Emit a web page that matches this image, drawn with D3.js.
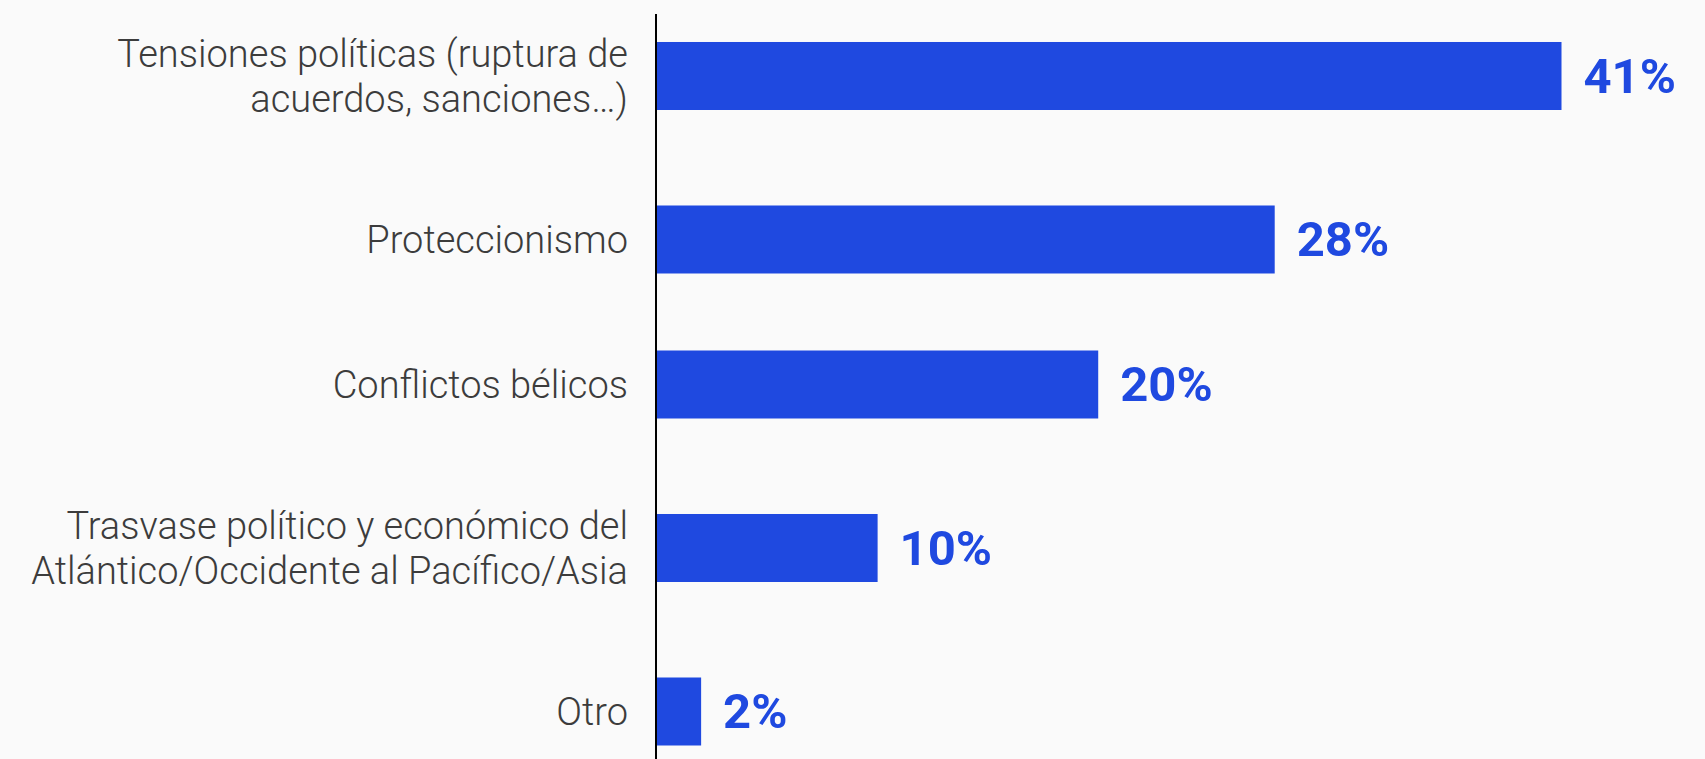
<!DOCTYPE html>
<html>
<head>
<meta charset="utf-8">
<script src="https://cdn.jsdelivr.net/npm/d3@7"></script>
<style>
  html, body { margin: 0; padding: 0; background: #fafafa; }
  svg { display: block; }
</style>
</head>
<body>
<svg id="chart" width="1705" height="759"></svg>
<script>
// ---- data ----
const categories = [
  "Tensiones políticas (ruptura de\nacuerdos, sanciones…)",
  "Proteccionismo",
  "Conflictos bélicos",
  "Trasvase político y económico del\nAtlántico/Occidente al Pacífico/Asia",
  "Otro"
];
const values = [41, 28, 20, 10, 2];
const valueLabels = ["41%", "28%", "20%", "10%", "2%"];

// ---- layout ----
const W = 1705, H = 759;
const axisX = 657;
const barColor = "#1f49e0";
const textColor = "#3c3c3c";

const svg = d3.select("#chart");
svg.append("rect").attr("width", W).attr("height", H).attr("fill", "#fafafa");

const x = d3.scaleLinear().domain([0, 41]).range([axisX, 1561.5]);

// row heights depend on number of label lines
const lines = categories.map(c => c.split("\n"));
const rowUnits = lines.map(l => 1 + 0.255 * (l.length - 1));
const cum = [0, ...d3.cumsum(rowUnits)];
const total = cum[cum.length - 1];
const yU = d3.scaleLinear().domain([0, total]).range([-15, 784]);
const centers = rowUnits.map((u, i) => yU(cum[i] + u / 2));
const barH = 68;

const rows = svg.append("g").selectAll("g.row")
  .data(values.map((v, i) => ({ v, i, label: lines[i], vl: valueLabels[i] })))
  .join("g").attr("class", "row");

rows.append("rect")
  .attr("x", x(0))
  .attr("y", d => centers[d.i] - barH / 2)
  .attr("width", d => x(d.v) - x(0))
  .attr("height", barH)
  .attr("fill", barColor);

rows.append("text")
  .attr("x", d => x(d.v) + 22)
  .attr("y", d => centers[d.i])
  .attr("dy", "0.34em")
  .attr("fill", barColor)
  .attr("font-family", "Roboto, 'Open Sans', sans-serif")
  .attr("font-weight", 700)
  .attr("font-size", 49)
  .text(d => d.vl);

const fs = 38, lh = 45;
rows.append("text")
  .attr("text-anchor", "end")
  .attr("fill", textColor)
  .attr("font-family", "Roboto, sans-serif")
  .attr("font-weight", 300)
  .attr("font-size", fs)
  .each(function(d) {
    const n = d.label.length;
    const t = d3.select(this);
    d.label.forEach((ln, k) => {
      t.append("tspan")
        .attr("x", 628)
        .attr("y", centers[d.i] + (k - (n - 1) / 2) * lh)
        .attr("dy", "0.36em")
        .text(ln);
    });
  });

// vertical axis line
svg.append("line")
  .attr("x1", axisX - 1).attr("x2", axisX - 1)
  .attr("y1", 14).attr("y2", H)
  .attr("stroke", "#000").attr("stroke-width", 2);
</script>
</body>
</html>
